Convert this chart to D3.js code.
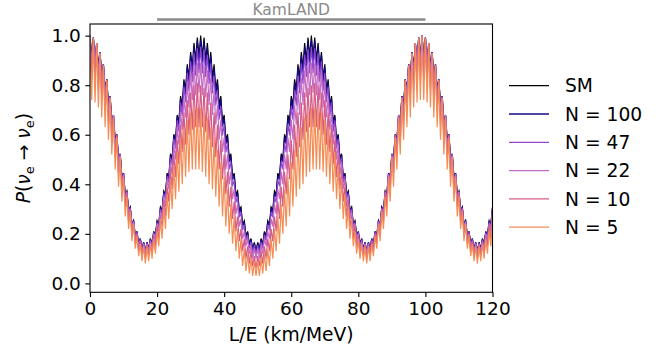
<!DOCTYPE html>
<html><head><meta charset="utf-8">
<script src="https://cdn.jsdelivr.net/npm/d3@7"></script>
<style>body{margin:0;background:#fff}svg{display:block}</style>
</head><body>
<svg id="c" width="672" height="355"></svg>
<script>
// ---- data ----
const xTicks = [0, 20, 40, 60, 80, 100, 120];
const yTicks = [0.0, 0.2, 0.4, 0.6, 0.8, 1.0];
const seriesNames = ["SM", "N = 100", "N = 47", "N = 22", "N = 10", "N = 5"];
const seriesColors = ["#000000", "#120a8a", "#9247d0", "#c46cc2", "#d65a86", "#f48c55"];
const kamlandRange = [20, 100];
const kamlandLabel = "KamLAND";
const LE = d3.range(0, 120.5, 0.5); // L/E sampling grid (km/MeV)

const pSM = [
1.000,.913,.992,.899,.970,.871,.934,.831,.884,.780,.824,.719,.756,.651,.680,.578,.602,.504,.523,.430,.445,.359,.373,.295,.308,.238,.253,.192,.210,.158,.181,.137,.166,.130,.166,.137,.181,.158,.210,.192,.253,.238,.308,.295,.373,.359,.445,.430,.523,.504,.602,.578,.680,.651,.756,.719,.824,.780,.884,.831,.934,.871,.970,.899,.992,.913,
1.000,.913,.992,.899,.970,.871,.934,.831,.884,.780,.824,.719,.756,.651,.680,.578,.602,.504,.523,.430,.445,.359,.373,.295,.308,.238,.253,.192,.210,.158,.181,.137,.166,.130,.166,.137,.181,.158,.210,.192,.253,.238,.308,.295,.373,.359,.445,.430,.523,.504,.602,.578,.680,.651,.756,.719,.824,.780,.884,.831,.934,.871,.970,.899,.992,.913,
1.000,.913,.992,.899,.970,.871,.934,.831,.884,.780,.824,.719,.756,.651,.680,.578,.602,.504,.523,.430,.445,.359,.373,.295,.308,.238,.253,.192,.210,.158,.181,.137,.166,.130,.166,.137,.181,.158,.210,.192,.253,.238,.308,.295,.373,.359,.445,.430,.523,.504,.602,.578,.680,.651,.756,.719,.824,.780,.884,.831,.934,.871,.970,.899,.992,.913,
1.000,.913,.992,.899,.970,.871,.934,.831,.884,.780,.824,.719,.756,.651,.680,.578,.602,.504,.523,.430,.445,.359,.373,.295,.308,.238,.253,.192,.210,.158,.181,.137,.166,.130,.166,.137,.181,.158,.210,.192,.253,.238,.308
];

const pN100 = [
1.000,.907,.992,.893,.970,.865,.934,.825,.884,.775,.824,.714,.755,.646,.679,.574,.601,.500,.522,.426,
.444,.356,.372,.292,.307,.236,.252,.190,.209,.156,.180,.135,.165,.128,.165,.135,.180,.156,.208,.189,
.251,.234,.305,.290,.370,.353,.441,.422,.518,.495,.596,.567,.673,.639,.747,.705,.814,.764,.873,.814,
.922,.852,.957,.879,.978,.892,.985,.892,.977,.878,.954,.850,.919,.810,.869,.760,.810,.700,.742,.634,
.667,.562,.591,.490,.513,.418,.436,.348,.365,.286,.301,.230,.247,.186,.205,.152,.177,.132,.162,.125,
.162,.132,.177,.152,.205,.186,.247,.230,.301,.286,.365,.348,.436,.418,.513,.490,.591,.562,.667,.634,
.742,.700,.810,.760,.869,.810,.919,.850,.954,.878,.977,.892,.985,.892,.978,.879,.957,.852,.922,.814,
.873,.764,.814,.705,.747,.639,.673,.567,.596,.495,.518,.422,.441,.353,.370,.290,.305,.234,.251,.189,
.208,.156,.180,.135,.165,.128,.165,.135,.180,.156,.209,.190,.252,.236,.307,.292,.372,.356,.444,.426,
.522,.500,.601,.574,.679,.646,.755,.714,.824,.775,.884,.825,.934,.865,.970,.893,.992,.907,1.000,
.907,.992,.893,.970,.865,.934,.825,.884,.775,.824,.714,.755,.646,.679,.574,.601,.500,.522,.426,.444,
.356,.372,.292,.307,.236,.252,.190,.209,.156,.180,.135,.165,.128,.165,.135,.180,.156,.208,.189,.251,.234,.305
];

const pN47 = [
1.000,.893,.992,.879,.970,.852,.933,.812,.883,.762,.823,.702,.754,.635,.678,.563,.600,.490,.520,.418,
.442,.348,.370,.286,.305,.230,.250,.185,.207,.152,.178,.131,.163,.124,.163,.130,.177,.150,.205,.182,
.247,.226,.300,.280,.363,.340,.433,.407,.508,.476,.583,.545,.658,.612,.730,.675,.794,.731,.850,.777,
.897,.813,.930,.838,.949,.849,.955,.847,.946,.833,.923,.805,.888,.767,.839,.718,.780,.661,.715,.597,
.642,.529,.568,.460,.492,.392,.418,.326,.350,.267,.288,.214,.236,.172,.196,.141,.168,.121,.154,.115,
.154,.121,.168,.141,.196,.172,.236,.214,.288,.267,.350,.326,.418,.392,.492,.460,.568,.529,.642,.597,
.715,.661,.780,.718,.839,.767,.888,.805,.923,.833,.946,.847,.955,.849,.949,.838,.930,.813,.897,.777,
.850,.731,.794,.675,.730,.612,.658,.545,.583,.476,.508,.407,.433,.340,.363,.280,.300,.226,.247,.182,
.205,.150,.177,.130,.163,.124,.163,.131,.178,.152,.207,.185,.250,.230,.305,.286,.370,.348,.442,.418,
.520,.490,.600,.563,.678,.635,.754,.702,.823,.762,.883,.812,.933,.852,.970,.879,.992,.893,1.000,
.893,.992,.879,.970,.852,.933,.812,.883,.762,.823,.702,.754,.635,.678,.563,.600,.490,.520,.418,.442,
.348,.370,.286,.305,.230,.250,.185,.207,.152,.178,.131,.163,.124,.163,.130,.177,.150,.205,.182,.247,.226,.300
];

const pN22 = [
1.00,.87,.99,.85,.97,.83,.93,.79,.88,.74,.82,.68,.75,.61,.68,.54,.60,.47,.52,.40,
.44,.33,.37,.27,.30,.22,.25,.18,.20,.14,.17,.12,.16,.12,.16,.12,.17,.14,.20,.17,
.24,.21,.29,.26,.35,.31,.42,.38,.49,.44,.56,.50,.63,.56,.69,.62,.75,.67,.81,.71,
.85,.74,.88,.76,.89,.77,.89,.76,.88,.75,.86,.72,.83,.68,.78,.64,.72,.58,.66,.53,
.59,.46,.52,.40,.45,.34,.38,.28,.32,.23,.26,.18,.21,.15,.18,.12,.15,.10,.14,.10,
.14,.10,.15,.12,.18,.15,.21,.18,.26,.23,.32,.28,.38,.34,.45,.40,.52,.46,.59,.53,
.66,.58,.72,.64,.78,.68,.83,.72,.86,.75,.88,.76,.89,.77,.89,.76,.88,.74,.85,.71,
.81,.67,.75,.62,.69,.56,.63,.50,.56,.44,.49,.38,.42,.31,.35,.26,.29,.21,.24,.17,
.20,.14,.17,.12,.16,.12,.16,.12,.17,.14,.20,.18,.25,.22,.30,.27,.37,.33,.44,.40,
.52,.47,.60,.54,.68,.61,.75,.68,.82,.74,.88,.79,.93,.83,.97,.85,.99,.87,1.00,
.87,.99,.85,.97,.83,.93,.79,.88,.74,.82,.68,.75,.61,.68,.54,.60,.47,.52,.40,.44,
.33,.37,.27,.30,.22,.25,.18,.20,.14,.17,.12,.16,.12,.16,.12,.17,.14,.20,.17,.24,.21,.29
];

const pN10 = [
1.00,.82,.99,.81,.97,.78,.93,.75,.88,.70,.82,.64,.75,.58,.67,.51,.59,.44,.51,.38,
.43,.31,.36,.25,.30,.20,.24,.16,.20,.13,.17,.11,.15,.10,.15,.11,.16,.12,.19,.15,
.23,.18,.27,.23,.33,.27,.39,.33,.46,.38,.52,.43,.58,.48,.64,.53,.69,.56,.74,.60,
.77,.62,.80,.63,.81,.63,.80,.63,.79,.61,.77,.58,.73,.55,.69,.51,.64,.46,.58,.42,
.52,.36,.45,.31,.39,.26,.33,.21,.27,.17,.22,.13,.18,.10,.15,.08,.13,.07,.11,.06,
.11,.07,.13,.08,.15,.10,.18,.13,.22,.17,.27,.21,.33,.26,.39,.31,.45,.36,.52,.42,
.58,.46,.64,.51,.69,.55,.73,.58,.77,.61,.79,.63,.80,.63,.81,.63,.80,.62,.77,.60,
.74,.56,.69,.53,.64,.48,.58,.43,.52,.38,.46,.33,.39,.27,.33,.23,.27,.18,.23,.15,
.19,.12,.16,.11,.15,.10,.15,.11,.17,.13,.20,.16,.24,.20,.30,.25,.36,.31,.43,.38,
.51,.44,.59,.51,.67,.58,.75,.64,.82,.70,.88,.75,.93,.78,.97,.81,.99,.82,1.00,
.82,.99,.81,.97,.78,.93,.75,.88,.70,.82,.64,.75,.58,.67,.51,.59,.44,.51,.38,.43,
.31,.36,.25,.30,.20,.24,.16,.20,.13,.17,.11,.15,.10,.15,.11,.16,.12,.19,.15,.23,.18,.27
];

const pN5 = [
1.00,.74,.99,.73,.97,.71,.93,.67,.88,.63,.82,.58,.75,.52,.67,.46,.59,.39,.51,.33,
.43,.27,.35,.22,.29,.17,.24,.14,.19,.11,.16,.09,.15,.08,.15,.09,.16,.10,.18,.12,
.21,.15,.26,.18,.31,.22,.36,.26,.42,.30,.48,.34,.53,.37,.59,.40,.63,.43,.66,.45,
.69,.46,.71,.46,.71,.46,.71,.45,.69,.43,.67,.40,.63,.38,.59,.35,.54,.31,.49,.27,
.43,.23,.38,.20,.32,.16,.27,.13,.22,.10,.18,.07,.14,.05,.12,.04,.10,.03,.09,.03,
.09,.03,.10,.04,.12,.05,.14,.07,.18,.10,.22,.13,.27,.16,.32,.20,.38,.23,.43,.27,
.49,.31,.54,.35,.59,.38,.63,.40,.67,.43,.69,.45,.71,.46,.71,.46,.71,.46,.69,.45,
.66,.43,.63,.40,.59,.37,.53,.34,.48,.30,.42,.26,.36,.22,.31,.18,.26,.15,.21,.12,
.18,.10,.16,.09,.15,.08,.15,.09,.16,.11,.19,.14,.24,.17,.29,.22,.35,.27,.43,.33,
.51,.39,.59,.46,.67,.52,.75,.58,.82,.63,.88,.67,.93,.71,.97,.73,.99,.74,1.00,
.74,.99,.73,.97,.71,.93,.67,.88,.63,.82,.58,.75,.52,.67,.46,.59,.39,.51,.33,.43,
.27,.35,.22,.29,.17,.24,.14,.19,.11,.16,.09,.15,.08,.15,.09,.16,.10,.18,.12,.21,.15,.26
];

const seriesValues = [pSM, pN100, pN47, pN22, pN10, pN5];

// ---- drawing ----
const FONT = "'DejaVu Sans', sans-serif";
const svg = d3.select("#c");
svg.append("rect").attr("width", 672).attr("height", 355).attr("fill", "#fff");

const L = 90, R = 492.5, T = 24, B = 292.3;
const x = d3.scaleLinear().domain([0, 120]).range([L, R]);
const y = d3.scaleLinear().domain([-0.036, 1.047]).range([B, T]);

svg.append("clipPath").attr("id", "clip").append("rect")
  .attr("x", L).attr("y", T).attr("width", R - L).attr("height", B - T);

const line = d3.line().x(d => x(d[0])).y(d => y(d[1]));
const g = svg.append("g").attr("clip-path", "url(#clip)");
seriesValues.forEach((vals, k) => {
  const pts = vals.map((v, i) => [LE[i], v]).filter(p => p[0] !== undefined);
  g.append("path").datum(pts)
    .attr("d", line)
    .attr("fill", "none")
    .attr("stroke", seriesColors[k])
    .attr("stroke-width", 1.2)
    .attr("stroke-linejoin", "miter");
});

// frame
svg.append("rect").attr("x", L).attr("y", T).attr("width", R - L).attr("height", B - T)
  .attr("fill", "none").attr("stroke", "#000").attr("stroke-width", 1.1);

// axes
const xAxis = svg.append("g").attr("transform", `translate(0,${B})`)
  .call(d3.axisBottom(x).tickValues(xTicks).tickSize(4.7).tickPadding(4.5).tickFormat(d3.format("d")));
const yAxis = svg.append("g").attr("transform", `translate(${L},0)`)
  .call(d3.axisLeft(y).tickValues(yTicks).tickSize(4.7).tickPadding(4.5).tickFormat(d3.format(".1f")));
[xAxis, yAxis].forEach(a => {
  a.select(".domain").remove();
  a.selectAll(".tick line").attr("stroke", "#000").attr("stroke-width", 1.1);
  a.selectAll(".tick text").attr("font-family", FONT).attr("font-size", 18.5).attr("fill", "#000");
});

// axis labels
svg.append("text").attr("x", (L + R) / 2).attr("y", 341)
  .attr("text-anchor", "middle").attr("font-family", FONT).attr("font-size", 18.7)
  .text("L/E (km/MeV)");

const yl = svg.append("text").attr("transform", `translate(30,${(T + B) / 2}) rotate(-90)`)
  .attr("text-anchor", "middle").attr("font-family", FONT).attr("font-size", 18.7);
yl.append("tspan").attr("font-style", "italic").text("P");
yl.append("tspan").text("(");
yl.append("tspan").attr("font-style", "italic").text("ν");
yl.append("tspan").attr("font-size", 13).attr("dy", 4).text("e");
yl.append("tspan").attr("dy", -4).text(" → ");
yl.append("tspan").attr("font-style", "italic").text("ν");
yl.append("tspan").attr("font-size", 13).attr("dy", 4).text("e");
yl.append("tspan").attr("dy", -4).text(")");

// KamLAND range bar
svg.append("line").attr("x1", x(kamlandRange[0])).attr("x2", x(kamlandRange[1]))
  .attr("y1", 19.5).attr("y2", 19.5).attr("stroke", "#8a8a8a").attr("stroke-width", 2.6);
svg.append("text").attr("x", x((kamlandRange[0] + kamlandRange[1]) / 2)).attr("y", 15)
  .attr("text-anchor", "middle").attr("font-family", FONT).attr("font-size", 15.5)
  .attr("fill", "#8a8a8a").text(kamlandLabel);

// legend
seriesNames.forEach((name, k) => {
  const ly = 85.7 + k * 28.3;
  svg.append("line").attr("x1", 509).attr("x2", 549).attr("y1", ly).attr("y2", ly)
    .attr("stroke", seriesColors[k]).attr("stroke-width", 1.3);
  svg.append("text").attr("x", 565).attr("y", ly).attr("dy", "0.36em")
    .attr("font-family", FONT).attr("font-size", 18.7).text(name);
});
</script>
</body></html>
